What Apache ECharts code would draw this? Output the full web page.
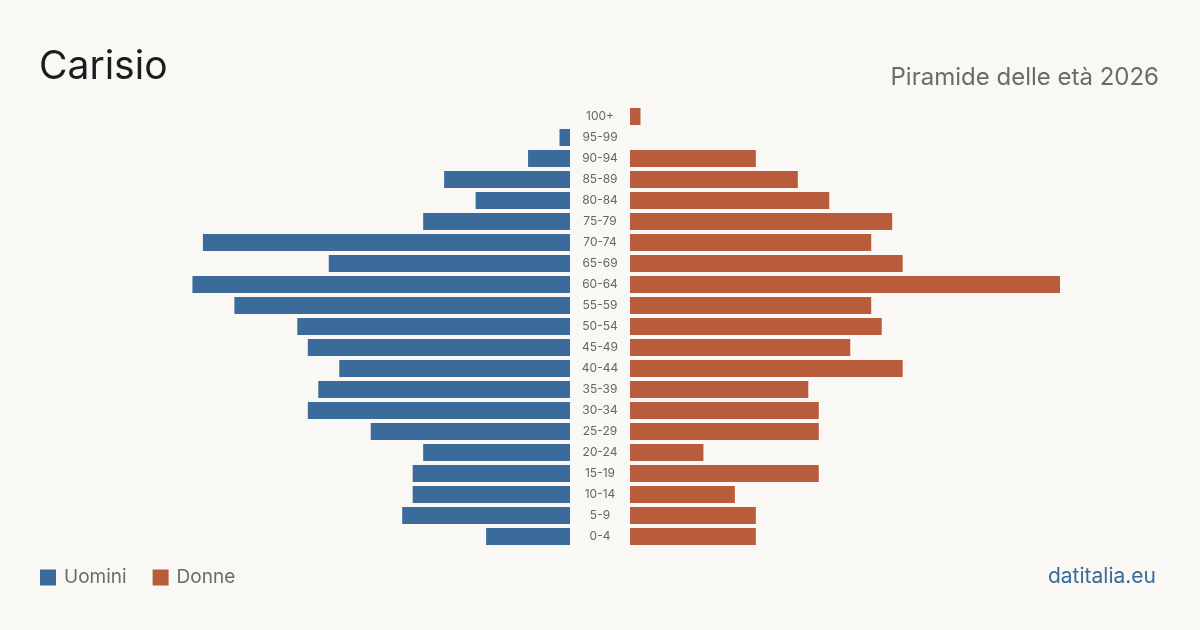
<!DOCTYPE html>
<html>
<head>
<meta charset="utf-8">
<script src="https://cdn.jsdelivr.net/npm/echarts@6/dist/echarts.min.js"></script>
<style>
  html, body { margin: 0; padding: 0; background: #f9f8f4; }
  #chart { width: 1200px; height: 630px; }
</style>
</head>
<body>
<div id="chart"></div>
<script>
// fasce d'età, dal basso verso l'alto
const ageGroups = ['0-4', '5-9', '10-14', '15-19', '20-24', '25-29', '30-34', '35-39', '40-44', '45-49',
  '50-54', '55-59', '60-64', '65-69', '70-74', '75-79', '80-84', '85-89', '90-94', '95-99', '100+']
const uomini = [8, 16, 15, 15, 14, 19, 25, 24, 22, 25, 26, 32, 36, 23, 35, 14, 9, 12, 4, 1, 0]
const donne = [12, 12, 10, 18, 7, 18, 18, 17, 26, 21, 24, 23, 41, 26, 23, 25, 19, 16, 12, 0, 1]

const maxVal = 41
const font = 'Inter'

const chart = echarts.init(document.getElementById('chart'))

chart.setOption({
  backgroundColor: '#f9f8f4',
  animation: false,
  textStyle: { fontFamily: font },
  title: [
    {
      text: 'Carisio',
      left: 39,
      top: 48,
      padding: 0,
      textStyle: { fontFamily: font, fontSize: 39, fontWeight: 'normal', color: '#1c1c1c' },
    },
    {
      text: 'Piramide delle età 2026',
      right: 41,
      top: 66,
      padding: 0,
      textStyle: { fontFamily: font, fontSize: 24, fontWeight: 'normal', color: '#6b6b6b' },
    },
    {
      text: 'datitalia.eu',
      right: 44,
      top: 566,
      padding: 0,
      textStyle: { fontFamily: font, fontSize: 21, fontWeight: 'normal', color: '#3b6b9b' },
    },
  ],
  legend: {
    left: 40,
    top: 568,
    padding: 0,
    icon: 'rect',
    itemWidth: 16,
    itemHeight: 16,
    itemGap: 26,
    textStyle: { fontFamily: font, fontSize: 19, color: '#6b6b6b', padding: [0, 0, 0, 3] },
    data: ['Uomini', 'Donne'],
  },
  grid: [
    { left: 140, width: 430, top: 106, height: 441 },
    { left: 630, width: 430, top: 106, height: 441 },
  ],
  xAxis: [
    { gridIndex: 0, type: 'value', min: 0, max: maxVal, inverse: true, show: false },
    { gridIndex: 1, type: 'value', min: 0, max: maxVal, show: false },
  ],
  yAxis: [
    { gridIndex: 0, type: 'category', data: ageGroups, show: false },
    {
      gridIndex: 1,
      type: 'category',
      data: ageGroups,
      axisLine: { show: false },
      axisTick: { show: false },
      axisLabel: { margin: 30, align: 'center', color: '#666', fontSize: 12, fontFamily: font },
    },
  ],
  series: [
    {
      name: 'Uomini',
      type: 'bar',
      xAxisIndex: 0,
      yAxisIndex: 0,
      barWidth: 17,
      itemStyle: { color: '#3b6b9b' },
      data: uomini,
    },
    {
      name: 'Donne',
      type: 'bar',
      xAxisIndex: 1,
      yAxisIndex: 1,
      barWidth: 17,
      itemStyle: { color: '#b95c3c' },
      data: donne,
    },
  ],
})
</script>
</body>
</html>
